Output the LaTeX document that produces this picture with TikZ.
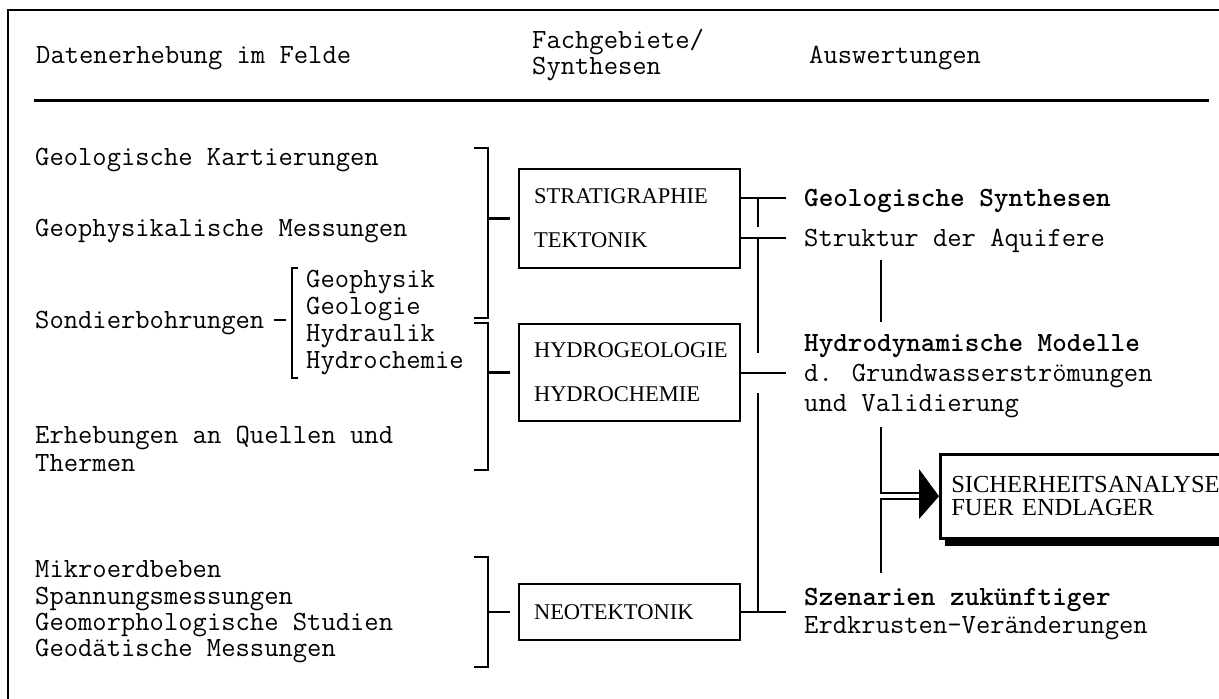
\documentclass[tikz,border=0pt]{standalone}
\usepackage{fontspec}
\newfontfamily\kastenfont{Liberation Serif}
\tikzset{
  schrift/.style={font=\fontsize{27.8}{30}\selectfont\ttfamily, anchor=west, inner sep=0pt, text height=17pt, text depth=0pt},
  fett/.style={schrift, font=\fontsize{27.8}{30}\selectfont\ttfamily\bfseries},
  fach/.style={draw, line width=2pt, font=\fontsize{22.5}{44}\selectfont\kastenfont, align=left, text width=191pt, inner xsep=15pt, inner ysep=0pt, minimum height=#1, anchor=north west},
  klammer/.style={line width=2.4pt},
  linie/.style={line width=2.2pt},
}
\begin{document}
\begin{tikzpicture}[x=1pt, y=-1pt, line join=miter]
	\useasboundingbox (0,0) rectangle (1219,699);
	\clip (0,0) rectangle (1219,699); % Bildausschnitt
	% Rahmen und Kopfzeile
	\draw[line width=2pt] (8,720) -- (8,10) -- (1230,10);
	\node[schrift] (kopfa) at (36,55) {Datenerhebung im Felde};
	\node[schrift] (kopfb) at (532,40) {Fachgebiete/};
	\node[schrift] (kopfc) at (532,66) {Synthesen};
	\node[schrift] (kopfd) at (809,55) {Auswertungen};
	\draw[line width=3pt] (34,100) -- (1209,100);
	% Datenerhebung
	\node[schrift] (kart) at (35,157) {Geologische Kartierungen};
	\node[schrift] (geoph) at (35,228) {Geophysikalische Messungen};
	\node[schrift] (sond) at (35,320) {Sondierbohrungen};
	\node[schrift] (sa) at (306,279) {Geophysik};
	\node[schrift] (sb) at (306,306) {Geologie};
	\node[schrift] (sc) at (306,333) {Hydraulik};
	\node[schrift] (sd) at (306,360) {Hydrochemie};
	\node[schrift] (quel) at (35,435) {Erhebungen an Quellen und};
	\node[schrift] (therm) at (35,463) {Thermen};
	\node[schrift] (mikro) at (35,569) {Mikroerdbeben};
	\node[schrift] (spann) at (35,596) {Spannungsmessungen};
	\node[schrift] (morph) at (35,622) {Geomorphologische Studien};
	\node[schrift] (geod) at (35,648) {Geodätische Messungen};
	\draw[klammer] ([xshift=10pt]sond.east) -- ++(12,0);
	\draw[klammer] (298,268) -- (292,268) -- (292,378) -- (298,378);
	% Fachgebiete
	\node[fach=99pt] (strat) at (518,168) {STRATIGRAPHIE\\TEKTONIK};
	\node[fach=97pt] (hydro) at (518,323) {HYDROGEOLOGIE\\HYDROCHEMIE};
	\node[fach=56pt] (neo) at (518,583) {NEOTEKTONIK};
	\draw[klammer] (474,148) -- (488,148) -- (488,318) -- (474,318);
	\draw[klammer] (488,148 |- strat.west) -- ([xshift=-8pt]strat.west);
	\draw[klammer] (474,323) -- (488,323) -- (488,470) -- (474,470);
	\draw[klammer] (488,323 |- hydro.west) -- ([xshift=-8pt]hydro.west);
	\draw[klammer] (474,557) -- (488,557) -- (488,667) -- (474,667);
	\draw[klammer] (488,557 |- neo.west) -- ([xshift=-8pt]neo.west);
	% Auswertungen
	\node[fett] (geosyn) at (804,198) {Geologische Synthesen};
	\node[schrift] (struk) at (804,238) {Struktur der Aquifere};
	\node[fett] (hydmod) at (804,343) {Hydrodynamische Modelle};
	\node[schrift] (grund) at (804,373) {d. Grundwasserströmungen};
	\node[schrift] (valid) at (804,403) {und Validierung};
	\node[fett] (szen) at (804,597) {Szenarien zukünftiger};
	\node[schrift] (erdk) at (804,625) {Erdkrusten-Veränderungen};
	\draw[linie] (strat.east |- geosyn.west) -- ([xshift=-18pt]geosyn.west);
	\draw[linie] (strat.east |- struk.west) -- ([xshift=-18pt]struk.west);
	\draw[linie] (hydro.east |- grund.west) -- ([xshift=-18pt]grund.west);
	\draw[linie] (neo.east) -- ([xshift=-18pt]szen.west |- neo.east);
	\draw[linie] (758,198) -- (758,227);
	\draw[linie] (758,238) -- (758,353);
	\draw[linie] (758,393) -- (758,612);
	\draw[linie] (881,260) -- (881,322);
	% Sicherheitsanalyse
	\node[draw, line width=2.5pt, font=\fontsize{24.5}{23}\selectfont\kastenfont, align=left, text width=320pt, inner xsep=11pt, minimum height=84pt, anchor=north west] (sich) at (939,453) {SICHERHEITSANALYSE\\FUER ENDLAGER};
	\draw[line width=6pt] ([xshift=6pt,yshift=-3pt]sich.south west) -- ([yshift=-3pt]sich.south east);
	\draw[linie] (881,427) |- (919,493);
	\draw[linie] (881,573) |- (919,499);
	\fill (919,469) -- (sich.west) -- (919,519) -- cycle;
\end{tikzpicture}
\end{document}
